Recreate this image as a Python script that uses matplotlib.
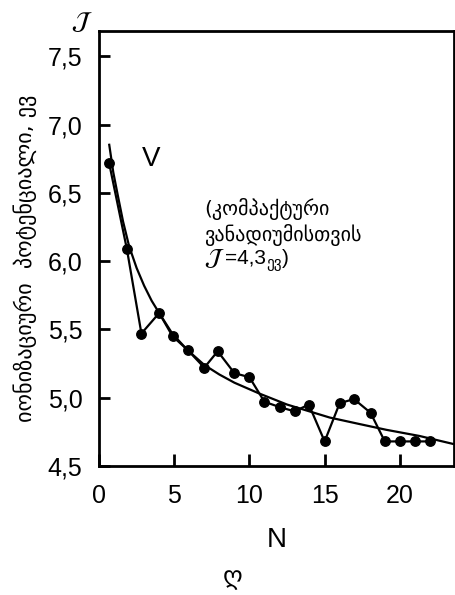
import numpy as np
import matplotlib
matplotlib.use("Agg")
import matplotlib.pyplot as plt

plt.rcParams['font.family'] = ['Liberation Sans', 'DejaVu Sans']

# measured points (N, ionization potential, eV)
N_pts = [0.67, 1.85, 2.82, 4.0, 4.89, 5.89, 7.0, 7.89, 9.0, 10.0, 11.0, 12.05, 13.0, 13.95,
         15.0, 16.0, 16.95, 18.05, 19.0, 20.0, 21.0, 22.0]
J_pts = [6.72, 6.09, 5.47, 5.62, 5.45, 5.35, 5.22, 5.34, 5.18, 5.15, 4.97, 4.93, 4.90, 4.95,
         4.68, 4.96, 4.99, 4.89, 4.68, 4.68, 4.68, 4.68]

# smooth trend curve
N_fit = [0.67, 0.95, 1.27, 1.6, 2.0, 2.5, 3.0, 3.5, 4.0, 4.87, 5.87, 7.0, 8.0, 9.0, 10.67,
         12.5, 15.33, 17.2, 19.1, 21.3, 23.6]
J_fit = [6.86, 6.65, 6.47, 6.29, 6.11, 5.95, 5.82, 5.71, 5.62, 5.47, 5.35, 5.24, 5.17,
         5.11, 5.03, 4.95, 4.855, 4.81, 4.765, 4.72, 4.66]

yticks = [4.5, 5.0, 5.5, 6.0, 6.5, 7.0, 7.5]
xticks = [0, 5, 10, 15, 20]

W, H = 456, 595
fig = plt.figure(figsize=(W / 100, H / 100), dpi=100)
ax = fig.add_axes([99 / W, 1 - 466 / H, (454 - 99) / W, (466 - 31) / H])

ax.plot(N_fit, J_fit, color='black', lw=1.6, solid_capstyle='butt')
ax.plot(N_pts, J_pts, color='black', lw=1.6, marker='o', ms=6.8)

ax.set_xlim(0, 23.6)
ax.set_ylim(4.5, 7.685)
ax.set_yticks(yticks)
ax.set_yticklabels([('%.1f' % v).replace('.', ',') for v in yticks])
ax.set_xticks(xticks)
ax.set_xticklabels([str(v) for v in xticks])
ax.tick_params(direction='in', length=8, width=2, labelsize=18, pad=12)
ax.tick_params(axis='x', length=9, pad=13)
for s in ax.spines.values():
    s.set_linewidth(2.0)

fig.text(25 / W, 1 - 258 / H, 'იონიზაციური  პოტენციალი, ევ', fontsize=16,
         family=['DejaVu Sans'], rotation=90, ha='center', va='center')

# in-plot labels
ax.text(2.87, 6.75, 'V', fontsize=20, ha='left', va='center')
gkw = dict(fontsize=14.5, family=['DejaVu Sans'], ha='left', va='center')
ax.text(7.0, 6.38, '(კომპაქტური', **gkw)
ax.text(7.0, 6.19, 'ვანადიუმისთვის', **gkw)
t1 = ax.text(7.0, 6.02, r'$\mathcal{J}$', fontsize=17, math_fontfamily='stix',
             ha='left', va='center')
fig.canvas.draw()
r = fig.canvas.get_renderer()
inv = ax.transData.inverted()
x1 = inv.transform((t1.get_window_extent(r).x1, 0))[0]
t2 = ax.text(x1, 6.02, '=4,3', fontsize=15, ha='left', va='center')
fig.canvas.draw()
x2 = inv.transform((t2.get_window_extent(r).x1, 0))[0]
t3 = ax.text(x2, 5.985, 'ევ', fontsize=11, family=['DejaVu Sans'], ha='left', va='center')
fig.canvas.draw()
x3 = inv.transform((t3.get_window_extent(r).x1, 0))[0]
ax.text(x3, 6.02, ')', fontsize=15, ha='left', va='center')

# axis name labels
fig.text(82 / W, 1 - 22 / H, r'$\mathcal{J}$', fontsize=18, math_fontfamily='stix',
         ha='center', va='center')
fig.text(277 / W, 1 - 540 / H, 'N', fontsize=20, ha='center', va='center')
fig.text(233 / W, 1 - 578 / H, 'ღ', fontsize=18, family=['DejaVu Sans'],
         ha='center', va='center')

fig.savefig('out.png', dpi=100)
